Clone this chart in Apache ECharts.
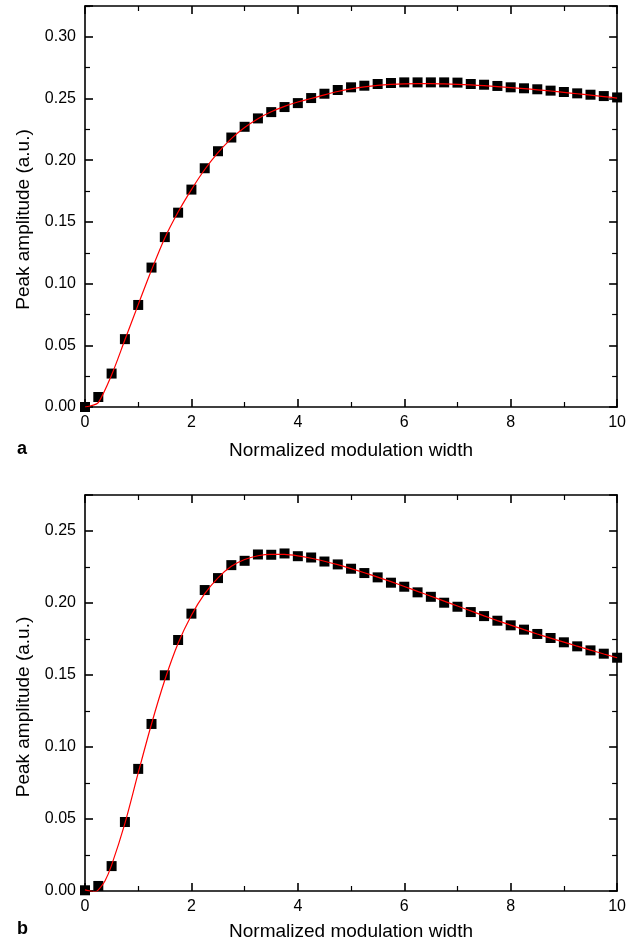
<!DOCTYPE html>
<html>
<head>
<meta charset="utf-8">
<script src="https://cdn.jsdelivr.net/npm/echarts@6/dist/echarts.min.js"></script>
<style>
html,body{margin:0;padding:0;background:#fff;}
#chart{width:629px;height:942px;}
</style>
</head>
<body>
<div id="chart"></div>
<script>
// ---- Data ----
var xPoints = [0,0.25,0.5,0.75,1,1.25,1.5,1.75,2,2.25,2.5,2.75,3,3.25,3.5,3.75,4,4.25,4.5,4.75,5,5.25,5.5,5.75,6,6.25,6.5,6.75,7,7.25,7.5,7.75,8,8.25,8.5,8.75,9,9.25,9.5,9.75,10];

var pointsA = [0.000,0.0081,0.0271,0.0550,0.0827,0.1130,0.1377,0.1575,0.1762,0.1935,0.2073,0.2184,0.2271,0.2339,0.2390,0.2431,0.2463,0.2504,0.2539,0.2569,0.2591,0.2604,0.2618,0.2626,0.2631,0.2631,0.2631,0.2631,0.2629,0.2618,0.2612,0.2602,0.2591,0.2583,0.2575,0.2564,0.2553,0.2542,0.2531,0.2520,0.2509];

var pointsB = [0.0005,0.0035,0.0173,0.0479,0.0848,0.1160,0.1498,0.1743,0.1926,0.2090,0.2173,0.2263,0.2293,0.2337,0.2335,0.2344,0.2325,0.2316,0.2288,0.2268,0.2238,0.2208,0.2178,0.2141,0.2113,0.2074,0.2043,0.2002,0.1974,0.1937,0.1909,0.1877,0.1845,0.1815,0.1785,0.1757,0.1727,0.1699,0.1671,0.1648,0.1620];

var xFitA = [0,0.125,0.25,0.5,0.75,1,1.25,1.5,1.75,2,2.25,2.5,2.75,3,3.25,3.5,3.75,4,4.25,4.5,4.75,5,5.25,5.5,5.75,6,6.25,6.5,6.75,7,7.25,7.5,7.75,8,8.25,8.5,8.75,9,9.25,9.5,9.75,10];
var fitA = [0,0.0012,0.0035,0.0260,0.0545,0.0830,0.1110,0.1370,0.1580,0.1762,0.1925,0.2062,0.2175,0.2265,0.2337,0.2393,0.2437,0.2472,0.2500,0.2530,0.2557,0.2578,0.2594,0.2606,0.2614,0.2619,0.2621,0.2621,0.2619,0.2615,0.2610,0.2604,0.2597,0.2589,0.2580,0.2571,0.2561,0.2550,0.2539,0.2528,0.2516,0.2504];

var xFitB = [0,0.125,0.2,0.25,0.375,0.5,0.75,1,1.25,1.5,1.75,2,2.25,2.5,2.75,3,3.25,3.5,3.75,4,4.25,4.5,4.75,5,5.25,5.5,5.75,6,6.25,6.5,6.75,7,7.25,7.5,7.75,8,8.25,8.5,8.75,9,9.25,9.5,9.75,10];
var fitB = [0.0008,-0.0002,-0.0004,0.0008,0.0070,0.0180,0.0470,0.0820,0.1160,0.1465,0.1720,0.1915,0.2065,0.2175,0.2255,0.2302,0.2328,0.2338,0.2337,0.2327,0.2311,0.2290,0.2266,0.2239,0.2210,0.2180,0.2148,0.2115,0.2081,0.2047,0.2013,0.1979,0.1945,0.1911,0.1878,0.1846,0.1815,0.1785,0.1756,0.1728,0.1700,0.1673,0.1646,0.1620];

var xTicks = [0,2,4,6,8,10];
var yTicksA = [0.00,0.05,0.10,0.15,0.20,0.25,0.30];
var yTicksB = [0.00,0.05,0.10,0.15,0.20,0.25];
var xTitle = 'Normalized modulation width';
var yTitle = 'Peak amplitude (a.u.)';
var panelLabels = ['a','b'];

// ---- Build ----
function pairs(xs, ys){ return xs.map(function(x,i){ return [x, ys[i]]; }); }

var FONT = 'Liberation Sans, Arial, Helvetica, sans-serif';
var lineStyle = {color:'#000', width:1.6};

function mainX(gi, gap){
  return {
    type:'value', gridIndex:gi, min:0, max:10, interval:2, position:'bottom',
    name:xTitle, nameLocation:'middle', nameGap:gap,
    nameTextStyle:{fontFamily:FONT, fontSize:19, color:'#000'},
    axisLine:{show:true, onZero:false, lineStyle:lineStyle},
    axisTick:{show:true, inside:true, length:8, lineStyle:lineStyle},
    minorTick:{show:true, splitNumber:2, length:5, lineStyle:{color:'#000', width:1.2}},
    axisLabel:{fontFamily:FONT, fontSize:16, color:'#000', margin:8,
      formatter:function(v){ return xTicks.indexOf(v) >= 0 ? String(v) : ''; }},
    splitLine:{show:false}
  };
}
function topX(gi){
  return {
    type:'value', gridIndex:gi, min:0, max:10, interval:2, position:'top',
    axisLine:{show:true, onZero:false, lineStyle:lineStyle},
    axisTick:{show:true, inside:true, length:8, lineStyle:lineStyle},
    minorTick:{show:true, splitNumber:2, length:5, lineStyle:{color:'#000', width:1.2}},
    axisLabel:{show:false}, splitLine:{show:false}
  };
}
function mainY(gi, max, ticks, gap, pad){
  return {
    type:'value', gridIndex:gi, min:0, max:max, interval:0.05, position:'left',
    name:yTitle, nameLocation:'middle', nameGap:gap,
    nameTextStyle:{fontFamily:FONT, fontSize:19, color:'#000', padding:pad},
    axisLine:{show:true, onZero:false, lineStyle:lineStyle},
    axisTick:{show:true, inside:true, length:8, lineStyle:lineStyle},
    minorTick:{show:true, splitNumber:2, length:5, lineStyle:{color:'#000', width:1.2}},
    axisLabel:{fontFamily:FONT, fontSize:16, color:'#000', margin:9, showMaxLabel:false,
      formatter:function(v){
        var r = Math.round(v*100)/100;
        for (var i=0;i<ticks.length;i++){ if (Math.abs(ticks[i]-r)<1e-9) return ticks[i].toFixed(2); }
        return '';
      }},
    splitLine:{show:false}
  };
}
function rightY(gi, max){
  return {
    type:'value', gridIndex:gi, min:0, max:max, interval:0.05, position:'right',
    axisLine:{show:true, onZero:false, lineStyle:lineStyle},
    axisTick:{show:true, inside:true, length:8, lineStyle:lineStyle},
    minorTick:{show:true, splitNumber:2, length:5, lineStyle:{color:'#000', width:1.2}},
    axisLabel:{show:false}, splitLine:{show:false}
  };
}

var option = {
  backgroundColor:'#fff',
  animation:false,
  grid:[
    {left:85, top:6, width:537, height:401, containLabel:false},
    {left:85, top:495, width:537, height:397, containLabel:false}
  ],
  xAxis:[ mainX(0, 34), topX(0), mainX(1, 31), topX(1) ],
  yAxis:[ mainY(0, 0.325, yTicksA, 52, [0,26,0,0]), rightY(0, 0.325), mainY(1, 0.275, yTicksB, 52, [0,28,0,0]), rightY(1, 0.275) ],
  series:[
    {type:'scatter', xAxisIndex:0, yAxisIndex:0, data:pairs(xPoints, pointsA),
     symbol:'rect', symbolSize:10, itemStyle:{color:'#000', opacity:1}, z:2},
    {type:'line', xAxisIndex:0, yAxisIndex:0, data:pairs(xFitA, fitA), smooth:0.3,
     showSymbol:false, lineStyle:{color:'#ff0000', width:1.2}, z:3},
    {type:'scatter', xAxisIndex:2, yAxisIndex:2, data:pairs(xPoints, pointsB),
     symbol:'rect', symbolSize:10, itemStyle:{color:'#000', opacity:1}, z:2},
    {type:'line', xAxisIndex:2, yAxisIndex:2, data:pairs(xFitB, fitB), smooth:0.3,
     showSymbol:false, lineStyle:{color:'#ff0000', width:1.2}, z:3}
  ],
  graphic:[
    {type:'text', left:17, top:440, style:{text:panelLabels[0], font:'bold 18px ' + FONT, fill:'#000'}},
    {type:'text', left:17, top:920, style:{text:panelLabels[1], font:'bold 18px ' + FONT, fill:'#000'}}
  ]
};

var chart = echarts.init(document.getElementById('chart'), null, {renderer:'canvas'});
chart.setOption(option);
</script>
</body>
</html>
